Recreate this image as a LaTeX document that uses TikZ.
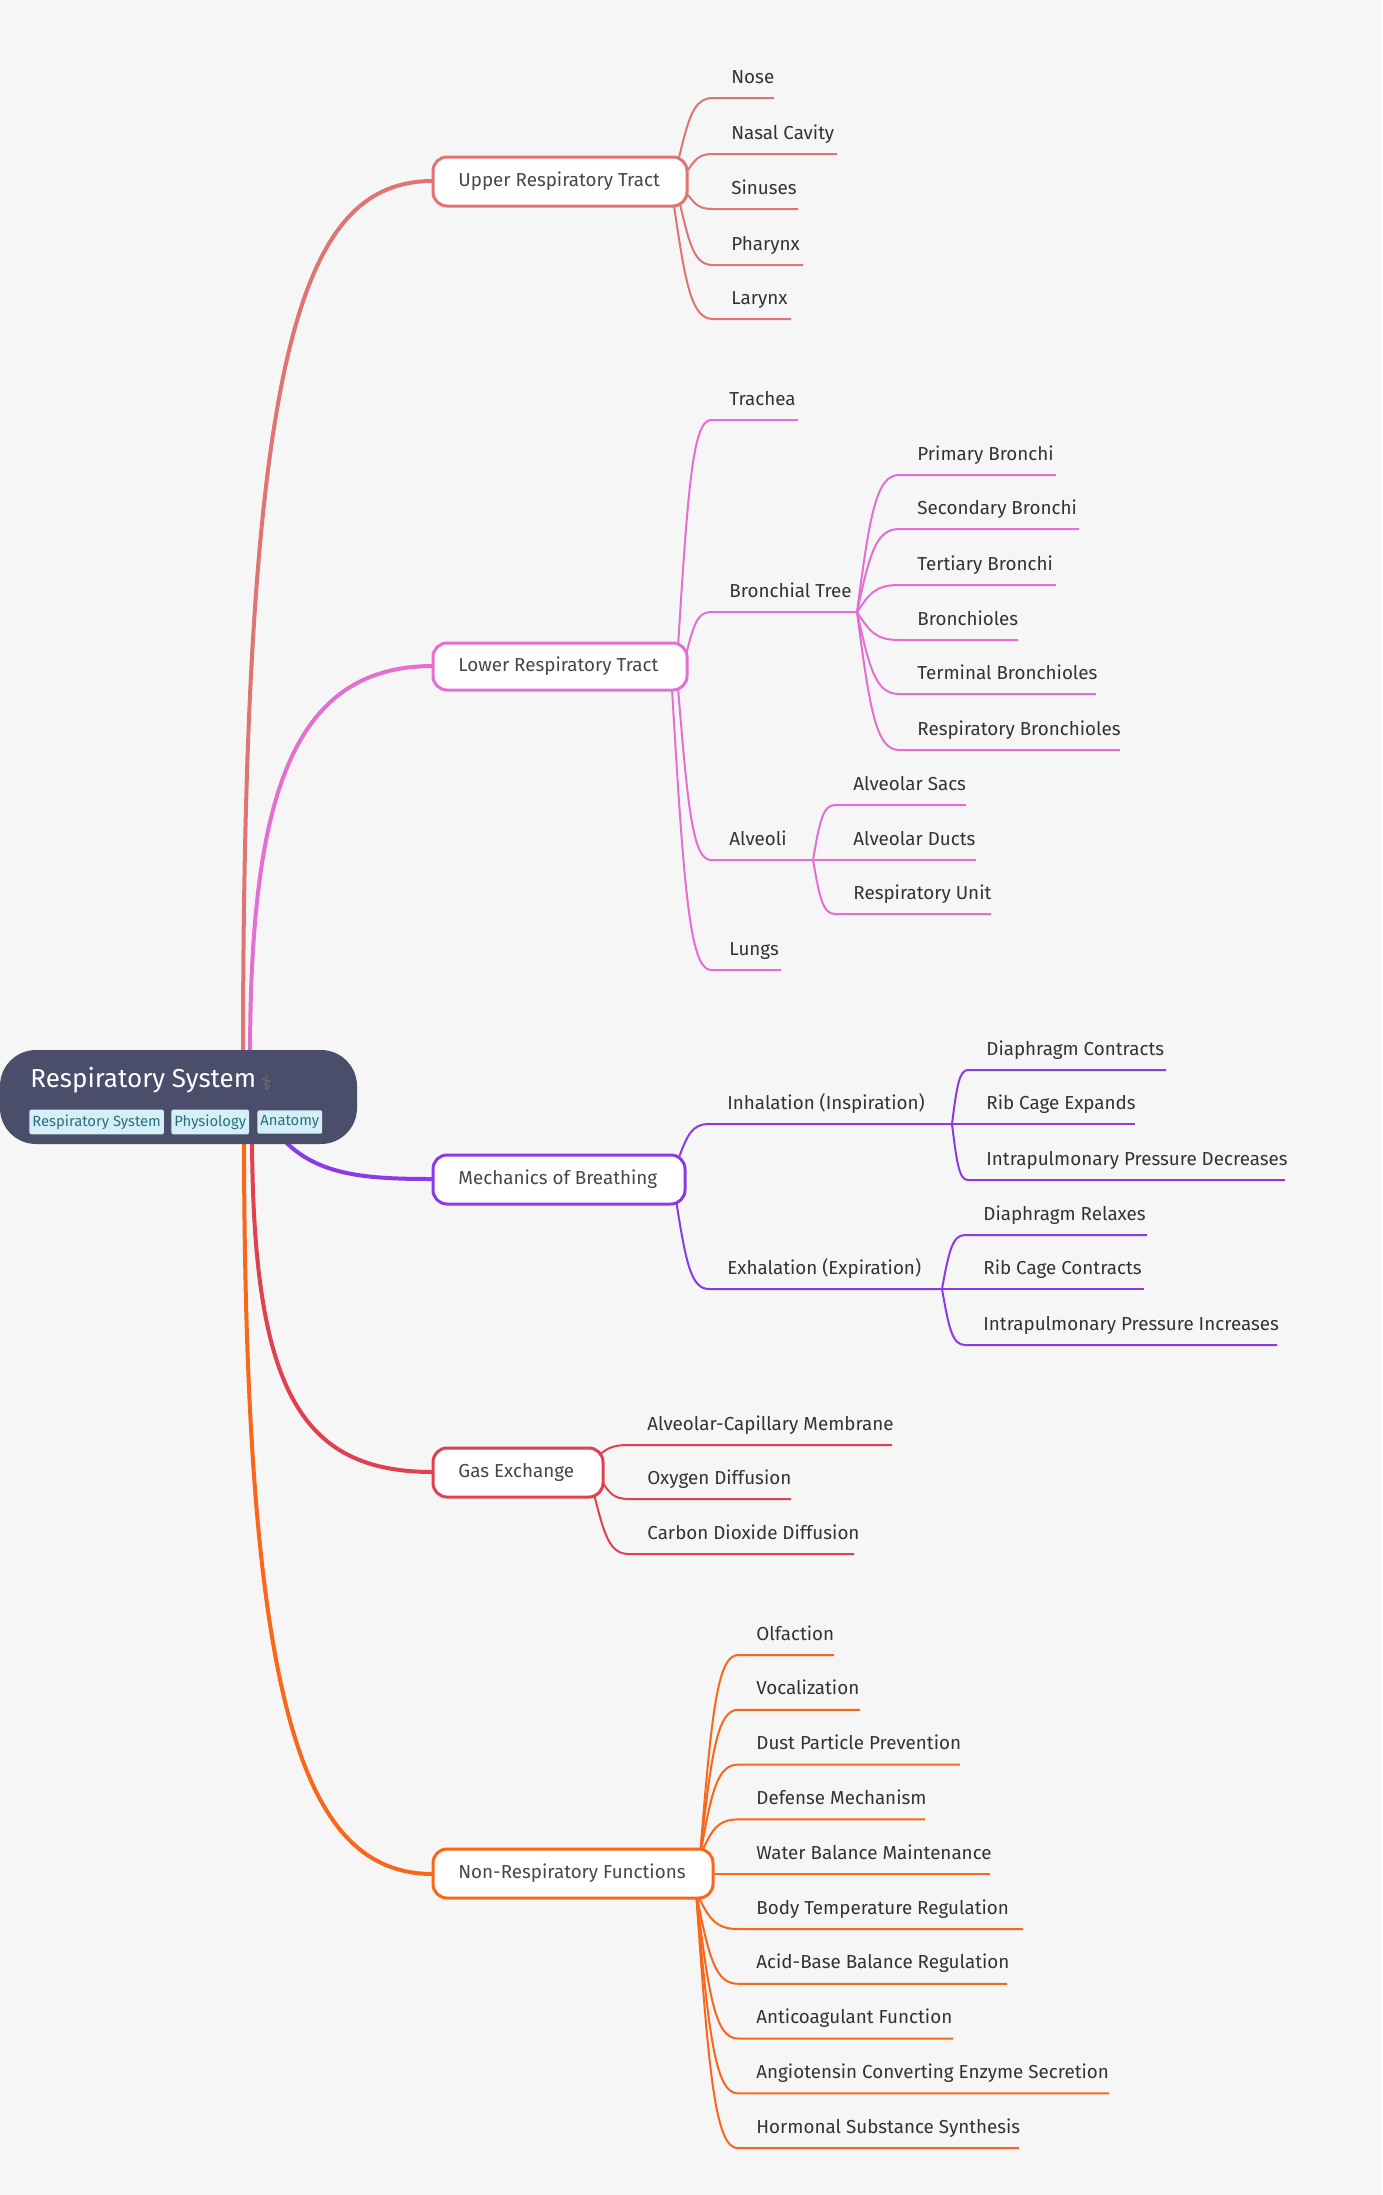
\documentclass[tikz,border=0pt]{standalone}
\usepackage{fontspec}
\setmainfont{Fira Sans}
\newfontfamily\symfont{DejaVu Sans}
\definecolor{cup}{HTML}{DE7474}
\definecolor{clo}{HTML}{E46FD2}
\definecolor{cme}{HTML}{8A3BE4}
\definecolor{cga}{HTML}{E0404F}
\definecolor{cno}{HTML}{F8671A}
\definecolor{txt}{HTML}{333333}
\definecolor{rootc}{HTML}{4B4E6A}
\definecolor{tagf}{HTML}{D4EFF5}
\definecolor{tagt}{HTML}{2B6F80}
\tikzset{
 leafline/.style={line width=1pt},
 mainline/.style={line width=2pt},
 leaftext/.style={font=\fontsize{9.4}{11}\selectfont, text=txt, inner sep=0pt, anchor=base west},
 boxnode/.style={draw, line width=1.5pt, fill=white, rounded corners=7pt},
 tag/.style={fill=tagf, text=tagt, rounded corners=1pt, font=\fontsize{7.4}{8}\selectfont, inner xsep=1.5pt, inner ysep=2.5pt, anchor=west}
}
% color, sx, sy, ux, uy, ex, text, name
\newcommand\leafc[8]{%
 \draw[#1, leafline] (#2,#3) .. controls ({#2+0.3*(#4-#2)},{#3+0.7*(#5-#3)}) and ({#2+0.45*(#4-#2)},#5) .. (#4,#5) -- (#6,#5);
 \node[leaftext] (#8) at ({#4+18},{#5-15}) {#7};}
\newcommand\boxc[7]{% color, x1,y1,x2,y2, text, name
 \draw[#1, boxnode] (#2,#3) rectangle (#4,#5);
 \node[leaftext, anchor=west, text=txt!90] (#7) at ({#2+25},{(#3+#5)/2}) {#6};}
\begin{document}
\begin{tikzpicture}[x=0.5pt,y=-0.5pt]
\fill[white!96.5!black] (0,0) rectangle (1382,2195);
\useasboundingbox (0,0) rectangle (1382,2195);
% main branches
\draw[cup, mainline] (243,1060) .. controls (243,350) and (300,181) .. (433,181);
\draw[clo, mainline] (250,1060) .. controls (250,800) and (290,666) .. (433,666);
\draw[cme, mainline] (275,1130) .. controls (310,1175) and (360,1179) .. (433,1179);
\draw[cga, mainline] (252,1130) .. controls (252,1390) and (300,1472) .. (433,1472);
\draw[cno, mainline] (244,1130) .. controls (244,1700) and (300,1874) .. (433,1874);
% root
\fill[rootc, rounded corners=18pt] (0,1050) rectangle (357,1144);
\node[anchor=west, text=white, font=\fontsize{13}{15}\selectfont, inner sep=0pt] (root) at (30,1080) {Respiratory System};
\node[anchor=west, text=black!55, font=\symfont\fontsize{10}{12}\selectfont, inner sep=0pt] (icon) at (261,1083) {⚕};
\node[tag] (t1) at (29,1122) {Respiratory System};
\node[tag] (t2) at (171,1122) {Physiology};
\node[tag] (t3) at (257,1122) {Anatomy};
% Upper
\leafc{cup}{678}{162}{713}{98}{774}{Nose}{u1}
\leafc{cup}{688}{170}{713}{154}{837}{Nasal Cavity}{u2}
\leafc{cup}{688}{195}{713}{209}{798}{Sinuses}{u3}
\leafc{cup}{680}{204}{713}{265}{803}{Pharynx}{u4}
\leafc{cup}{674}{206}{713}{319}{791}{Larynx}{u5}
\boxc{cup}{433}{157}{687}{206}{Upper Respiratory Tract}{upper}
% Lower
\leafc{clo}{678}{647}{711}{420}{798}{Trachea}{l1}
\leafc{clo}{686}{655}{711}{612}{857}{Bronchial Tree}{l2}
\leafc{clo}{678}{688}{711}{860}{813}{Alveoli}{l3}
\leafc{clo}{672}{689}{711}{970}{781}{Lungs}{l4}
\boxc{clo}{433}{643}{687}{690}{Lower Respiratory Tract}{lower}
\leafc{clo}{857}{612}{899}{475}{1056}{Primary Bronchi}{b1}
\leafc{clo}{857}{612}{899}{529}{1079}{Secondary Bronchi}{b2}
\leafc{clo}{857}{612}{899}{585}{1056}{Tertiary Bronchi}{b3}
\leafc{clo}{857}{612}{899}{640}{1018}{Bronchioles}{b4}
\leafc{clo}{857}{612}{899}{694}{1096}{Terminal Bronchioles}{b5}
\leafc{clo}{857}{612}{899}{750}{1120}{Respiratory Bronchioles}{b6}
\leafc{clo}{813}{860}{835}{805}{966}{Alveolar Sacs}{a1}
\leafc{clo}{813}{860}{835}{860}{976}{Alveolar Ducts}{a2}
\leafc{clo}{813}{860}{835}{914}{991}{Respiratory Unit}{a3}
% Mechanics
\leafc{cme}{678}{1160}{709}{1124}{952}{Inhalation (Inspiration)}{m1}
\leafc{cme}{676}{1200}{709}{1289}{942}{Exhalation (Expiration)}{m2}
\boxc{cme}{433}{1155}{685}{1204}{Mechanics of Breathing}{mech}
\leafc{cme}{952}{1124}{968}{1070}{1166}{Diaphragm Contracts}{i1}
\leafc{cme}{952}{1124}{968}{1124}{1135}{Rib Cage Expands}{i2}
\leafc{cme}{952}{1124}{968}{1180}{1285}{Intrapulmonary Pressure Decreases}{i3}
\leafc{cme}{942}{1289}{965}{1235}{1147}{Diaphragm Relaxes}{e1}
\leafc{cme}{942}{1289}{965}{1289}{1144}{Rib Cage Contracts}{e2}
\leafc{cme}{942}{1289}{965}{1345}{1277}{Intrapulmonary Pressure Increases}{e3}
% Gas
\leafc{cga}{596}{1458}{629}{1445}{892}{Alveolar-Capillary Membrane}{g1}
\leafc{cga}{600}{1478}{629}{1499}{791}{Oxygen Diffusion}{g2}
\leafc{cga}{594}{1494}{629}{1554}{854}{Carbon Dioxide Diffusion}{g3}
\boxc{cga}{433}{1448}{603}{1497}{Gas Exchange}{gas}
% Non-respiratory
\foreach \t/\e [count=\i from 0] in {Olfaction/834,Vocalization/860,Dust Particle Prevention/960,Defense Mechanism/925,Water Balance Maintenance/990,Body Temperature Regulation/1023,Acid-Base Balance Regulation/1007,Anticoagulant Function/953,Angiotensin Converting Enzyme Secretion/1109,Hormonal Substance Synthesis/1019}{
 \pgfmathsetmacro\uy{1655+54.8*\i}
 \pgfmathsetmacro\sy{max(1856,min(1892,\uy))}
 \pgfmathsetmacro\sx{\uy<1874 ? 700 : 696}
 \leafc{cno}{\sx}{\sy}{738}{\uy}{\e}{\t}{n\i}
}
\boxc{cno}{433}{1849}{713}{1898}{Non-Respiratory Functions}{nonresp}
\end{tikzpicture}
\end{document}
